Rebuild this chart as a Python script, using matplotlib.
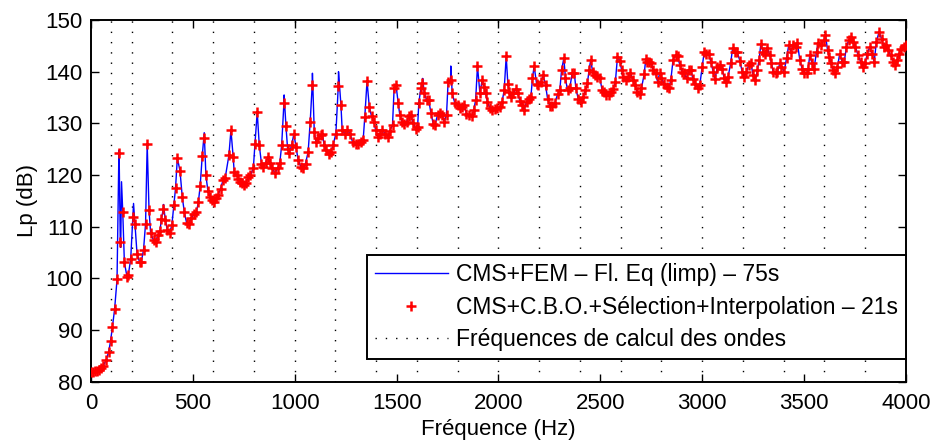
import matplotlib
matplotlib.use('Agg')
from matplotlib import pyplot as plt


# Lp (dB) vs frequency : full CMS+FEM curve, selected/interpolated points, wave frequencies

plt.rcParams['font.family'] = ['Liberation Sans', 'DejaVu Sans']

# red "+" points (Hz, dB)
sel_freq = [0, 10, 20, 30, 40, 50, 59, 75, 87, 96, 105, 116, 128, 137, 144, 156, 164, 177, 183, 195,
            206, 216, 226, 239, 247, 258, 268, 276, 285, 293, 307, 317, 329, 339, 345, 355, 365, 375, 386, 397,
            407, 415, 424, 437, 448, 458, 469, 481, 492, 504, 517, 527, 536, 546, 554, 564, 574, 584, 594, 604,
            613, 623, 636, 648, 659, 677, 687, 698, 703, 715, 723, 731, 743, 752, 759, 772, 783, 797, 805, 816,
            826, 837, 846, 857, 867, 878, 891, 903, 916, 927, 936, 947, 957, 965, 973, 985, 996, 1006, 1017, 1030,
            1042, 1053, 1066, 1076, 1086, 1096, 1104, 1115, 1127, 1135, 1145, 1156, 1168, 1178, 1189, 1202, 1214, 1227, 1233, 1246,
            1259, 1271, 1284, 1299, 1312, 1325, 1336, 1344, 1355, 1366, 1377, 1389, 1397, 1407, 1418, 1430, 1443, 1456, 1467, 1480,
            1488, 1497, 1508, 1516, 1528, 1538, 1549, 1560, 1570, 1582, 1593, 1603, 1609, 1619, 1627, 1636, 1647, 1658, 1668, 1680,
            1688, 1701, 1713, 1724, 1734, 1745, 1753, 1765, 1773, 1786, 1799, 1811, 1822, 1832, 1843, 1855, 1868, 1879, 1888, 1897,
            1909, 1920, 1928, 1937, 1946, 1958, 1969, 1982, 1995, 2007, 2018, 2028, 2038, 2046, 2053, 2061, 2072, 2084, 2094, 2105,
            2116, 2126, 2138, 2149, 2159, 2167, 2175, 2187, 2195, 2208, 2220, 2231, 2241, 2252, 2264, 2277, 2290, 2301, 2310, 2321,
            2329, 2339, 2350, 2362, 2372, 2380, 2391, 2404, 2416, 2427, 2437, 2445, 2453, 2462, 2473, 2484, 2498, 2509, 2519, 2530,
            2542, 2552, 2563, 2574, 2584, 2596, 2604, 2612, 2624, 2637, 2648, 2658, 2669, 2681, 2694, 2702, 2715, 2723, 2731, 2741,
            2751, 2759, 2771, 2781, 2792, 2800, 2813, 2825, 2836, 2846, 2857, 2869, 2879, 2890, 2902, 2911, 2923, 2934, 2944, 2955,
            2967, 2980, 2988, 3000, 3010, 3021, 3032, 3042, 3054, 3062, 3075, 3086, 3098, 3108, 3119, 3127, 3140, 3149, 3160, 3171,
            3185, 3196, 3206, 3217, 3229, 3239, 3250, 3261, 3271, 3279, 3288, 3299, 3310, 3320, 3332, 3340, 3348, 3360, 3369, 3381,
            3389, 3402, 3414, 3425, 3435, 3446, 3458, 3467, 3479, 3490, 3500, 3512, 3520, 3528, 3539, 3549, 3561, 3569, 3582, 3598,
            3605, 3615, 3623, 3631, 3642, 3651, 3664, 3675, 3687, 3697, 3708, 3719, 3732, 3741, 3752, 3765, 3778, 3790, 3798, 3811,
            3822, 3834, 3844, 3855, 3868, 3880, 3891, 3901, 3912, 3925, 3937, 3945, 3957, 3965, 3978, 3989, 3998]
sel_lp = [81.9, 81.9, 82.0, 82.1, 82.3, 82.6, 83.0, 84.2, 85.8, 87.8, 90.5, 94.0, 99.8, 124.2, 107.1, 112.9, 103.1, 100.3, 100.6, 103.7,
          111.9, 110.6, 104.8, 103.1, 103.2, 105.5, 110.6, 126.0, 113.2, 108.7, 107.4, 107.1, 108.4, 109.2, 111.4, 113.4, 111.3, 109.3, 108.8, 110.3,
          114.2, 117.4, 123.3, 120.8, 115.8, 112.9, 110.8, 110.6, 111.6, 112.4, 112.8, 114.7, 117.9, 123.6, 127.1, 120.0, 116.9, 115.8, 115.2, 114.8,
          115.5, 116.1, 117.3, 119.0, 119.5, 123.8, 128.7, 123.5, 120.6, 120.0, 119.3, 118.7, 118.4, 118.0, 118.4, 119.7, 120.0, 121.3, 126.1, 132.2,
          125.8, 122.2, 121.6, 122.4, 123.4, 122.4, 121.3, 120.3, 121.3, 122.4, 125.8, 133.9, 129.5, 125.1, 124.2, 125.8, 128.0, 125.5, 122.9, 121.6,
          121.3, 122.2, 124.5, 130.3, 137.5, 128.4, 126.4, 127.1, 127.7, 127.9, 125.8, 124.8, 124.0, 124.5, 125.9, 128.0, 137.3, 133.5, 128.7, 128.0,
          128.7, 128.0, 126.4, 126.1, 126.1, 126.3, 126.8, 131.3, 138.2, 133.2, 131.4, 130.3, 128.7, 127.4, 128.0, 128.8, 128.0, 127.4, 128.6, 129.7,
          136.8, 137.5, 133.9, 131.6, 130.3, 129.9, 130.3, 131.4, 131.6, 130.0, 129.0, 129.2, 133.9, 136.8, 137.9, 135.8, 134.6, 134.5, 132.1, 129.9,
          129.7, 131.6, 132.1, 131.6, 130.3, 131.6, 138.1, 138.4, 135.8, 133.9, 133.5, 132.9, 133.2, 133.5, 131.9, 131.6, 131.4, 132.6, 134.5, 141.1,
          135.8, 138.4, 137.1, 135.8, 134.2, 132.9, 132.6, 132.7, 132.9, 133.2, 134.2, 136.4, 143.0, 137.7, 136.0, 135.1, 135.8, 136.6, 135.8, 134.4,
          133.5, 132.6, 134.2, 134.8, 135.1, 138.7, 141.1, 137.7, 137.4, 138.1, 139.3, 137.4, 134.8, 133.3, 133.3, 134.0, 135.6, 136.4, 140.4, 142.6,
          138.7, 136.4, 136.8, 139.8, 139.8, 136.8, 134.8, 134.2, 135.1, 136.4, 137.9, 140.4, 142.3, 140.0, 139.3, 138.9, 138.7, 136.4, 136.1, 135.5,
          135.5, 136.1, 136.6, 138.1, 142.8, 142.1, 140.4, 139.0, 138.4, 139.0, 139.8, 138.4, 137.4, 136.1, 135.7, 136.8, 139.5, 142.4, 141.9, 141.8,
          141.6, 140.3, 139.7, 138.1, 139.8, 138.7, 137.7, 137.1, 136.8, 138.4, 142.3, 143.2, 143.0, 141.3, 140.0, 139.7, 138.7, 140.3, 140.4, 138.5,
          137.7, 136.8, 137.4, 141.0, 143.9, 143.4, 143.5, 141.9, 140.0, 138.5, 141.0, 141.3, 140.6, 138.7, 138.1, 139.0, 141.7, 144.5, 143.9, 143.9,
          142.1, 140.0, 139.0, 140.0, 141.3, 141.6, 139.3, 138.4, 140.3, 142.3, 145.4, 143.9, 143.5, 144.5, 143.2, 141.6, 140.0, 139.7, 140.0, 141.6,
          141.0, 140.0, 142.6, 145.2, 143.9, 145.2, 144.8, 145.6, 142.3, 140.6, 139.7, 139.7, 140.6, 143.2, 141.6, 140.6, 143.9, 145.5, 145.2, 146.1,
          147.1, 144.2, 142.9, 141.6, 140.3, 139.8, 141.0, 143.5, 141.9, 141.9, 144.8, 146.1, 146.8, 145.8, 144.8, 143.2, 141.9, 141.0, 141.6, 143.5,
          144.8, 143.5, 141.9, 145.8, 147.7, 146.4, 144.8, 145.2, 144.2, 143.2, 141.9, 141.3, 142.3, 143.5, 144.3, 144.8, 145.2]

# extra resonance tips seen only on the full (blue) curve
peak_freq = [138, 146, 150, 209, 356, 556, 948, 1087, 1215, 1628, 1766]
peak_lp = [124.8, 106.0, 118.7, 114.5, 114.3, 128.2, 135.5, 139.7, 140.0, 138.7, 141.1]

# frequencies where the waves are computed
wave_freq = [100, 200, 400, 600, 800, 1000, 1200, 1400, 1600, 1800, 2000,
             2200, 2400, 2600, 2800, 3000, 3200, 3400, 3600, 3800]

full = sorted(zip(sel_freq + peak_freq, sel_lp + peak_lp))
full_freq = [p[0] for p in full]
full_lp = [p[1] for p in full]

fig = plt.figure(figsize=(9.31, 4.41), dpi=100)
ax = fig.add_axes([0.0977, 0.1345, 0.8754, 0.8201])

ax.plot(full_freq, full_lp, color=(0, 0, 1), lw=1.0,
        label='CMS+FEM \u2013 Fl. Eq (limp) \u2013 75s', zorder=3)
ax.plot(sel_freq, sel_lp, '+', color=(1, 0, 0), ms=7.5, mew=1.8,
        label='CMS+C.B.O.+S\u00e9lection+Interpolation \u2013 21s', zorder=4)
for i, f in enumerate(wave_freq):
    ax.axvline(f, color='k', lw=1.0, ls=(0, (1, 6.4)), zorder=1,
               label='Fr\u00e9quences de calcul des ondes' if i == 0 else None)

ax.set_xlim(0, 4000)
ax.set_ylim(80, 150)
ax.set_xticks(range(0, 4001, 500))
ax.set_yticks(range(80, 151, 10))
ax.tick_params(direction='in', top=True, right=True, length=6, width=1, labelsize=16)
ax.tick_params(axis='x', pad=8)
ax.tick_params(axis='y', pad=6)
for s in ax.spines.values():
    s.set_linewidth(1.4)

ax.set_xlabel('Fr\u00e9quence (Hz)', fontsize=16, labelpad=4)
ax.set_ylabel('Lp (dB)', fontsize=16, labelpad=5)

leg = ax.legend(loc='lower right', bbox_to_anchor=(1.0, 0.062), fontsize=16.5,
                fancybox=False, framealpha=1, edgecolor='k', borderaxespad=0,
                handlelength=3.2, handletextpad=0.35, labelspacing=0.42, borderpad=0.35)
leg.get_frame().set_linewidth(1.4)

fig.savefig('out.png', dpi=100)
